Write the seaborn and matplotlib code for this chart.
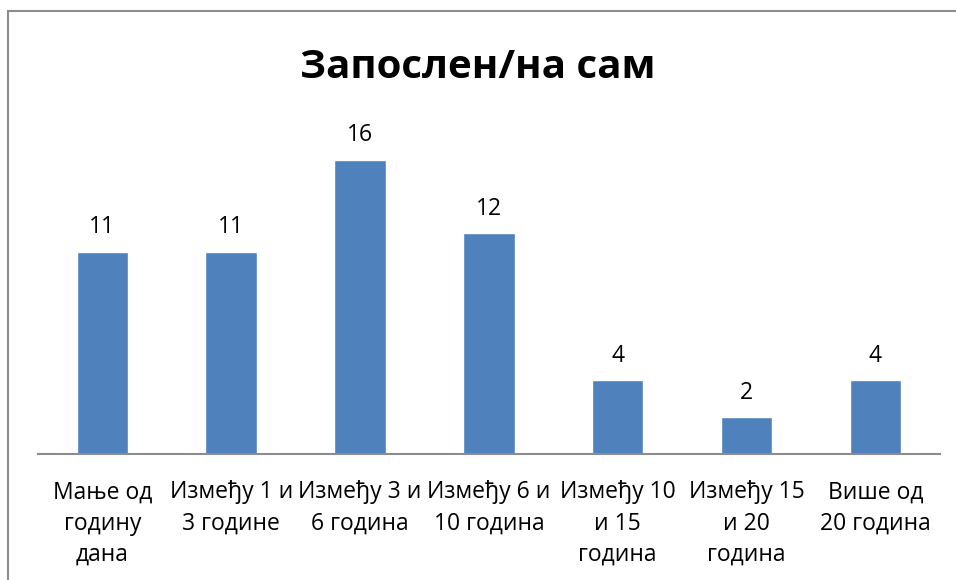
import matplotlib
matplotlib.use("Agg")
import matplotlib.pyplot as plt
import seaborn as sns
import pandas as pd
from matplotlib.patches import Rectangle

categories = ["Мање од\nгодину\nдана", "Између 1 и\n3 године", "Између 3 и\n6 година",
              "Између 6 и\n10 година", "Између 10\nи 15\nгодина", "Између 15\nи 20\nгодина",
              "Више од\n20 година"]
values = [11, 11, 16, 12, 4, 2, 4]
title = "Запослен/на сам"

sns.set_style("white")
plt.rcParams["font.family"] = ["Open Sans", "DejaVu Sans"]
plt.rcParams["text.color"] = "black"
plt.rcParams["xtick.color"] = "black"

df = pd.DataFrame({"cat": categories, "val": values})

fig = plt.figure(figsize=(9.56, 5.8), dpi=100)
ax = fig.add_axes([0.0397, 0.2172, 0.9433, 0.571])

sns.barplot(data=df, x="cat", y="val", color="#4F81BD", saturation=1, width=0.4, ax=ax)
ax.set_ylim(0, 18)
ax.set_xlim(-0.5, len(categories) - 0.5)

for i, v in enumerate(values):
    ax.annotate(str(v), (i, v), xytext=(0, 9), textcoords="offset points",
                ha="center", va="bottom", fontsize=16.5, color="black")

for s in ["top", "right", "left"]:
    ax.spines[s].set_visible(False)
ax.spines["bottom"].set_color("#8c8c8c")
ax.spines["bottom"].set_linewidth(1.5)
ax.set_yticks([])
ax.tick_params(axis="x", length=0, pad=19, labelsize=16.5, labelcolor="black")
for lbl in ax.get_xticklabels():
    lbl.set_linespacing(1.4)
ax.set_xlabel("")
ax.set_ylabel("")

fig.text(0.5, 0.883, title, ha="center", va="center", fontsize=29,
         fontweight="bold", color="black")

# outer chart frame (only left and top edges visible)
fig.patches.append(Rectangle((8 / 956, -0.05), 1.0, 1 - 11 / 580 + 0.05,
                             transform=fig.transFigure, fill=False,
                             edgecolor="#8c8c8c", linewidth=1.5))

fig.savefig("out.png", dpi=100)
